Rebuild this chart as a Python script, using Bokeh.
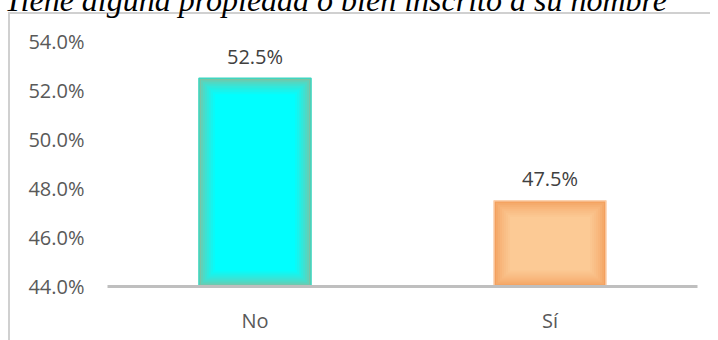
from bokeh.plotting import figure
from bokeh.models import FactorRange, Range1d, FixedTicker, NumeralTickFormatter, ColumnDataSource
from bokeh.core.properties import value
from bokeh.embed import file_html
from bokeh.resources import INLINE

# ---- data ----
title_text = "Tiene alguna propiedad o bien inscrito a su nombre"
categories = ["No", "Sí"]
values = [0.525, 0.475]
y_ticks = [0.44, 0.46, 0.48, 0.50, 0.52, 0.54]
y_min, y_max = 0.44, 0.54

# ---- styles ----
bar_edge = ["#7CC3A4", "#F3A05E"]
bar_center = ["#00FFFF", "#FCCA95"]
bar_outline = ["#3ED6C0", "#FBD2B0"]
bar_width = 0.38
label_font = "Open Sans"
border_css = ("linear-gradient(#D0D0D0, #D0D0D0) 8px 66px / 100% 2px no-repeat, "
              "linear-gradient(#D0D0D0, #D0D0D0) 8px 66px / 2px 100% no-repeat")

W, H = 710, 410
p = figure(x_range=FactorRange(factors=categories, range_padding=0),
           y_range=Range1d(y_min, y_max),
           width=W, height=H, output_backend="svg", toolbar_location=None,
           min_border_left=107, min_border_right=13, min_border_top=95, min_border_bottom=70)
p.styles = {"margin-top": "-54px", "margin-bottom": "-40px", "background": border_css}

p.title.text = title_text
p.title.text_font = "Liberation Serif"
p.title.text_font_style = "italic"
p.title.text_font_size = "32px"
p.title.text_color = "#000000"
p.title.align = "left"
p.title.offset = -103
p.title.standoff = 48

p.xgrid.grid_line_color = None
p.ygrid.grid_line_color = None
p.outline_line_color = None
p.background_fill_color = "white"
p.border_fill_color = None

# gradient-like bars (layered insets)
n_layers = 9
px_x = 1.0 / 295.0
px_y = (y_max - y_min) / 245.0

def mix(c1, c2, t):
    a = [int(c1[i:i + 2], 16) for i in (1, 3, 5)]
    b = [int(c2[i:i + 2], 16) for i in (1, 3, 5)]
    return "#%02x%02x%02x" % tuple(int(round(a[j] + (b[j] - a[j]) * t)) for j in range(3))

for k in range(n_layers):
    t = (k / (n_layers - 1)) ** 0.7
    src = ColumnDataSource(dict(
        x=categories,
        top=[v - k * 2 * px_y for v in values],
        bottom=[y_min + k * 2 * px_y] * len(values),
        color=[mix(bar_edge[i], bar_center[i], t) for i in range(len(values))],
    ))
    p.vbar(x="x", top="top", bottom="bottom", width=bar_width - k * 4 * px_x,
           fill_color="color", line_color=None, source=src)

src_o = ColumnDataSource(dict(x=categories, top=values, lc=bar_outline))
p.vbar(x="x", top="top", bottom=y_min, width=bar_width, fill_color=None,
       line_color="lc", line_width=1.5, source=src_o)

labels = ["%.1f%%" % (v * 100) for v in values]
p.text(x=categories, y=values, text=labels, text_align="center", text_baseline="alphabetic",
       y_offset=-22, text_font=value(label_font), text_font_size="20px", text_color="#404040")

# axes
p.yaxis.ticker = FixedTicker(ticks=y_ticks)
p.yaxis.formatter = NumeralTickFormatter(format="0.0%")
p.yaxis.axis_line_color = None
p.yaxis.major_tick_line_color = None
p.yaxis.minor_tick_line_color = None
p.yaxis.major_label_standoff = 17
p.yaxis.major_label_text_font = label_font
p.yaxis.major_label_text_font_size = "20px"
p.yaxis.major_label_text_color = "#595959"

p.xaxis.axis_line_color = "#BFBFBF"
p.xaxis.axis_line_width = 3
p.xaxis.major_tick_line_color = None
p.xaxis.minor_tick_line_color = None
p.xaxis.major_label_standoff = 14
p.xaxis.major_label_text_font = label_font
p.xaxis.major_label_text_font_size = "20px"
p.xaxis.major_label_text_color = "#595959"

open("out.html", "w").write(file_html(p, INLINE))
